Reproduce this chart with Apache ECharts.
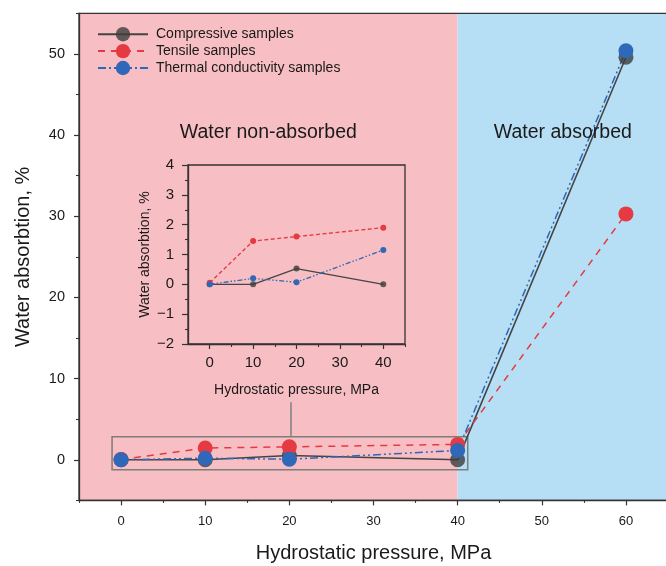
<!DOCTYPE html>
<html>
<head>
<meta charset="utf-8">
<script src="https://cdn.jsdelivr.net/npm/echarts@6/dist/echarts.min.js"></script>
<style>
  html, body { margin: 0; padding: 0; background: #fff; }
  #chart { width: 666px; height: 566px; }
</style>
</head>
<body>
<div id="chart"></div>
<script>
// Water absorption of the sample groups versus hydrostatic pressure
const pressure = [0, 10, 20, 40, 60];
const compressive = [0, 0, 0.53, 0, 49.6];
const tensile = [0.05, 1.45, 1.6, 1.9, 30.3];
const thermal = [0, 0.2, 0.07, 1.15, 50.4];

// Close-up of the low-pressure range
const insetPressure = [0, 10, 20, 40];
const insetCompressive = [0, 0, 0.53, 0];
const insetTensile = [0.05, 1.45, 1.6, 1.9];
const insetThermal = [0, 0.2, 0.07, 1.15];

const seriesNames = ['Compressive samples', 'Tensile samples', 'Thermal conductivity samples'];
const zoneNames = ['Water non-absorbed', 'Water absorbed'];
const titleX = 'Hydrostatic pressure, MPa';
const titleY = 'Water absorbtion, %';

// Tick positions
const xTicks = [0, 10, 20, 30, 40, 50, 60];
const xMinorTicks = [-5, 5, 15, 25, 35, 45, 55, 65];
const yTicks = [0, 10, 20, 30, 40, 50];
const yMinorTicks = [-5, 5, 15, 25, 35, 45, 55];
const insetXTicks = [0, 10, 20, 30, 40];
const insetXMinorTicks = [5, 15, 25, 35, 45];
const insetYTicks = [-2, -1, 0, 1, 2, 3, 4];
const insetYMinorTicks = [-1.5, -0.5, 0.5, 1.5, 2.5, 3.5];

const FONT = 'Liberation Sans, Arial, sans-serif';
const INK = '#1a1a1a';
const AXIS = '#333333';
const C_GRAY = 'rgba(60,60,60,0.8)';
const C_GRAY_LINE = '#454545';
const C_RED = '#e53a41';
const C_BLUE = '#2f68b8';
const PINK = '#f7bec3';
const SKY = '#b6dff5';

const pairs = (xs, ys) => xs.map((x, i) => [x, ys[i]]);
const minus = v => String(v).replace('-', '\u2212');

// Major axis (line, major ticks, labels) + companion axis carrying the short minor ticks
function majorAxis(o) {
  return {
    type: 'value', gridIndex: o.grid, position: o.position,
    min: o.min, max: o.max, interval: o.interval, z: 6,
    name: o.name, nameLocation: 'middle', nameGap: o.nameGap,
    nameRotate: o.nameRotate,
    nameTextStyle: { fontFamily: FONT, fontSize: o.nameSize, color: INK },
    axisLine: { show: true, onZero: false, lineStyle: { color: AXIS, width: 1.3 } },
    axisTick: { show: true, inside: false, length: o.tickLen, customValues: o.ticks,
                lineStyle: { color: AXIS, width: 1.2 } },
    axisLabel: { show: true, customValues: o.ticks, margin: o.margin,
                 fontFamily: FONT, fontSize: o.labelSize, color: INK,
                 formatter: v => minus(v) },
    splitLine: { show: false },
    minorTick: { show: false }
  };
}
function minorAxis(o) {
  return {
    type: 'value', gridIndex: o.grid, position: o.position,
    min: o.min, max: o.max, interval: o.interval, z: 6,
    axisLine: { show: false, onZero: false },
    axisTick: { show: true, inside: false, length: o.tickLen, customValues: o.ticks,
                lineStyle: { color: AXIS, width: 1.1 } },
    axisLabel: { show: false },
    splitLine: { show: false }
  };
}

const chart = echarts.init(document.getElementById('chart'), null, { renderer: 'canvas' });

const option = {
  animation: false,
  backgroundColor: '#ffffff',
  textStyle: { fontFamily: FONT },
  grid: [
    { left: 79, top: 13.4, width: 589, height: 487, show: true, z: 5,
      backgroundColor: 'transparent', borderColor: AXIS, borderWidth: 1.3,
      containLabel: false, outerBoundsMode: 'none' },
    { left: 188, top: 165, width: 217, height: 179, show: true, z: 6,
      backgroundColor: 'transparent', borderColor: AXIS, borderWidth: 1.3,
      containLabel: false, outerBoundsMode: 'none' }
  ],
  xAxis: [
    majorAxis({ grid: 0, position: 'bottom', min: -5, max: 65, interval: 5,
                name: titleX, nameGap: 43, nameSize: 20, ticks: xTicks, tickLen: 5,
                margin: 15, labelSize: 13 }),
    minorAxis({ grid: 0, position: 'bottom', min: -5, max: 65, interval: 5,
                ticks: xMinorTicks, tickLen: 2.5 }),
    majorAxis({ grid: 1, position: 'bottom', min: -5, max: 45, interval: 5,
                name: titleX, nameGap: 39, nameSize: 14, ticks: insetXTicks, tickLen: 5,
                margin: 11, labelSize: 15 }),
    minorAxis({ grid: 1, position: 'bottom', min: -5, max: 45, interval: 5,
                ticks: insetXMinorTicks, tickLen: 3 })
  ],
  yAxis: [
    majorAxis({ grid: 0, position: 'left', min: -5, max: 55, interval: 5,
                name: titleY, nameGap: 46, nameSize: 20, ticks: yTicks, tickLen: 5,
                margin: 14, labelSize: 14.5 }),
    minorAxis({ grid: 0, position: 'left', min: -5, max: 55, interval: 5,
                ticks: yMinorTicks, tickLen: 3 }),
    majorAxis({ grid: 1, position: 'left', min: -2, max: 4, interval: 0.5,
                name: titleY, nameGap: 36, nameSize: 14, ticks: insetYTicks, tickLen: 6,
                margin: 14, labelSize: 15 }),
    minorAxis({ grid: 1, position: 'left', min: -2, max: 4, interval: 0.5,
                ticks: insetYMinorTicks, tickLen: 3 })
  ],
  legend: {
    data: seriesNames,
    orient: 'vertical',
    left: 92, top: 22,
    itemWidth: 50, itemHeight: 18, itemGap: 2.5,
    textStyle: { fontFamily: FONT, fontSize: 14, color: INK, padding: [0, 0, 0, 3] },
    selectedMode: false
  },
  series: [
    // shaded pressure zones, zoom frame, pointer arrow and zone captions
    {
      type: 'line', name: 'zones', xAxisIndex: 0, yAxisIndex: 0, data: [], z: 1, silent: true,
      markArea: {
        silent: true,
        label: { show: false },
        data: [
          [{ xAxis: -5, itemStyle: { color: PINK } }, { xAxis: 40 }],
          [{ xAxis: 40, itemStyle: { color: SKY } }, { xAxis: 65 }],
          [{ coord: [-1.07, 2.83], itemStyle: { color: 'rgba(0,0,0,0)', borderColor: '#7d7d7d', borderWidth: 1.5 } },
           { coord: [41.2, -1.23] }]
        ]
      },
      markLine: {
        silent: true,
        symbol: ['none', 'arrow'],
        symbolSize: [0, 9],
        label: { show: false },
        lineStyle: { color: '#808080', width: 1.5, type: 'solid' },
        data: [[{ coord: [20.2, 2.83] }, { coord: [20.2, 7.1] }]]
      },
      markPoint: {
        silent: true,
        symbol: 'circle', symbolSize: 0,
        label: { show: true, position: 'inside', fontFamily: FONT, fontSize: 19.5, color: INK,
                 formatter: p => p.name },
        data: [
          { name: zoneNames[0], coord: [17.5, 40.3] },
          { name: zoneNames[1], coord: [52.5, 40.3] }
        ]
      }
    },
    {
      type: 'line', name: seriesNames[0], xAxisIndex: 0, yAxisIndex: 0, z: 3,
      data: pairs(pressure, compressive),
      symbol: 'circle', symbolSize: 15,
      itemStyle: { color: C_GRAY },
      lineStyle: { color: C_GRAY_LINE, width: 1.6, type: 'solid' }
    },
    {
      type: 'line', name: seriesNames[1], xAxisIndex: 0, yAxisIndex: 0, z: 3,
      data: pairs(pressure, tensile),
      symbol: 'circle', symbolSize: 15,
      itemStyle: { color: C_RED },
      lineStyle: { color: C_RED, width: 1.5, type: [7, 6] }
    },
    {
      type: 'line', name: seriesNames[2], xAxisIndex: 0, yAxisIndex: 0, z: 3,
      data: pairs(pressure, thermal),
      symbol: 'circle', symbolSize: 15,
      itemStyle: { color: C_BLUE },
      lineStyle: { color: C_BLUE, width: 1.5, type: [8, 3, 2, 3, 2, 3] }
    },
    // inset
    {
      type: 'line', name: 'inset-compressive', xAxisIndex: 2, yAxisIndex: 2, z: 7,
      data: pairs(insetPressure, insetCompressive),
      symbol: 'circle', symbolSize: 6,
      itemStyle: { color: C_GRAY },
      lineStyle: { color: C_GRAY_LINE, width: 1.3, type: 'solid' }
    },
    {
      type: 'line', name: 'inset-tensile', xAxisIndex: 2, yAxisIndex: 2, z: 7,
      data: pairs(insetPressure, insetTensile),
      symbol: 'circle', symbolSize: 6,
      itemStyle: { color: C_RED },
      lineStyle: { color: C_RED, width: 1.3, type: [4, 2.5] }
    },
    {
      type: 'line', name: 'inset-thermal', xAxisIndex: 2, yAxisIndex: 2, z: 7,
      data: pairs(insetPressure, insetThermal),
      symbol: 'circle', symbolSize: 6,
      itemStyle: { color: C_BLUE },
      lineStyle: { color: C_BLUE, width: 1.3, type: [5, 2, 1.5, 2, 1.5, 2] }
    }
  ]
};

chart.setOption(option);
</script>
</body>
</html>
